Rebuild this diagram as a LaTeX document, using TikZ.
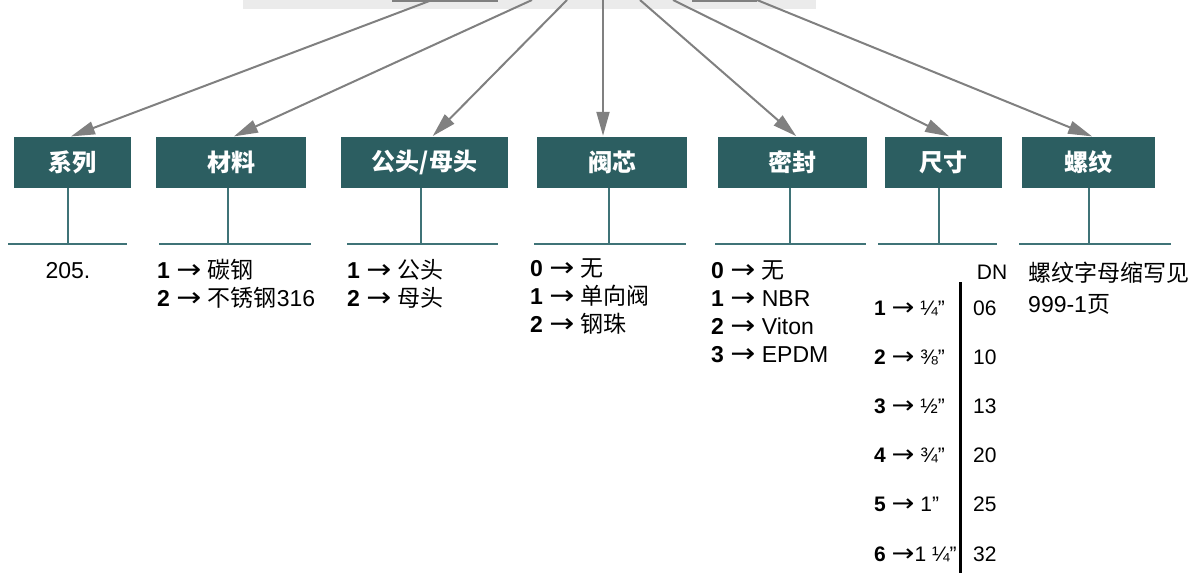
\documentclass[tikz,border=0pt]{standalone}
\usepackage{fontspec}
\setmainfont{Liberation Sans}
\newfontfamily\cjk{Noto Sans CJK SC}
\newfontfamily\sym{DejaVu Sans}
\usepackage{tikz}
\usetikzlibrary{arrows.meta, positioning}
\usepackage{xcolor}
\newcommand\fl{\scalebox{1.3}[1.15]{\sym →}}
\definecolor{sarcelle}{HTML}{2C5E61}
\definecolor{trait}{HTML}{3F7377}
\definecolor{fleche}{HTML}{808080}
\definecolor{bandeau}{HTML}{EBEBEB}

\begin{document}
\begin{tikzpicture}[x=1pt, y=-1pt,
  codebox/.style={rectangle, fill=sarcelle, minimum height=51pt, inner sep=0pt,
                  text=white, font=\fontsize{24}{26}\selectfont\bfseries},
  lien/.style={draw=fleche, line width=2pt, -{Triangle[length=24pt, width=13pt]},
               shorten >=1pt},
  tige/.style={draw=trait, line width=2pt},
  liste/.style={anchor=base west, inner sep=0pt, align=left,
                font=\fontsize{23}{28}\selectfont},
  cote/.style={anchor=base west, inner sep=0pt, font=\fontsize{21}{24}\selectfont}
]
\useasboundingbox (0,0) rectangle (1202,573);

\fill[bandeau] (243,0) rectangle (816,8.5);
\draw[fleche, line width=3pt] (392,0.5) -- (498,0.5);
\draw[fleche, line width=3pt] (692,0.5) -- (757,0.5);

\node[codebox, minimum width=117pt] (serie)   at (72.5,162.5)  {\cjk 系列};
\node[codebox, minimum width=150pt] (matiere) at (231,162.5)   {\cjk 材料};
\node[codebox, minimum width=167pt] (sexe)    at (424.5,162.5) {\cjk 公头/母头};
\node[codebox, minimum width=150pt] (clapet)  at (612,162.5)   {\cjk 阀芯};
\node[codebox, minimum width=149pt] (joint)   at (792.5,162.5) {\cjk 密封};
\node[codebox, minimum width=117pt] (taille)  at (943.5,162.5) {\cjk 尺寸};
\node[codebox, minimum width=133pt] (filet)   at (1088.5,162.5) {\cjk 螺纹};

\foreach \b/\x/\d in {serie/432/-2.5, matiere/532/2, sexe/567/7.5, clapet/603/-9,
                      joint/640/4.5, taille/673/6.5, filet/757/4.5}{
  \coordinate (haut-\b) at (\x,0);
  \draw[lien] (haut-\b) -- ([xshift=\d pt]\b.north);
}

\foreach \b/\x/\l/\r in {serie/68/8/127, matiere/228/159/311, sexe/421/347/498,
                         clapet/609/534/686, joint/790/715/866, taille/939/878/997,
                         filet/1089/1019/1171}{
  \coordinate (pied-\b) at (\x,244);
  \draw[tige] (\b.south -| pied-\b) -- (pied-\b);
  \draw[tige] (\l,244) -- (\r,244);
}

% multi-line nodes sit on the baseline of their last line
\node[liste, anchor=base] (l-serie) at (68,278) {205.};
\node[liste] (l-matiere) at (157,306) {\textbf{1} \fl{} {\cjk 碳钢}\\ \textbf{2} \fl{} {\cjk 不锈钢}316};
\node[liste] (l-sexe) at (347,306) {\textbf{1} \fl{} {\cjk 公头}\\ \textbf{2} \fl{} {\cjk 母头}};
\node[liste] (l-clapet) at (530,332) {\textbf{0} \fl{} {\cjk 无}\\ \textbf{1} \fl{} {\cjk 单向阀}\\
  \textbf{2} \fl{} {\cjk 钢珠}};
\node[liste] (l-joint) at (711,362) {\textbf{0} \fl{} {\cjk 无}\\ \textbf{1} \fl{} NBR\\
  \textbf{2} \fl{} Viton\\ \textbf{3} \fl{} EPDM};
\node[liste, font=\fontsize{23}{31}\selectfont] (l-filet) at (1028,312)
  {\cjk 螺纹字母缩写见\\ 999-1{\cjk 页}};

\node[cote, anchor=base] (dn) at (992,279) {DN};
\coordinate (barre-haut) at (960,282);
\coordinate (barre-bas) at (960,573);
\draw[line width=3pt] (barre-haut) -- (barre-bas);
\foreach \c/\n [count=\i] in {{\textbf{1} \fl{} ¼”}/06, {\textbf{2} \fl{} ⅜”}/10,
                              {\textbf{3} \fl{} ½”}/13, {\textbf{4} \fl{} ¾”}/20,
                              {\textbf{5} \fl{}  1”}/25, {\textbf{6} \fl{}1 ¼”}/32}{
  \node[cote] (rang\i) at (874, {315+(\i-1)*49.2}) {\c};
  \node[cote] (dn\i) at (973, {315+(\i-1)*49.2}) {\n};
}
\end{tikzpicture}
\end{document}
